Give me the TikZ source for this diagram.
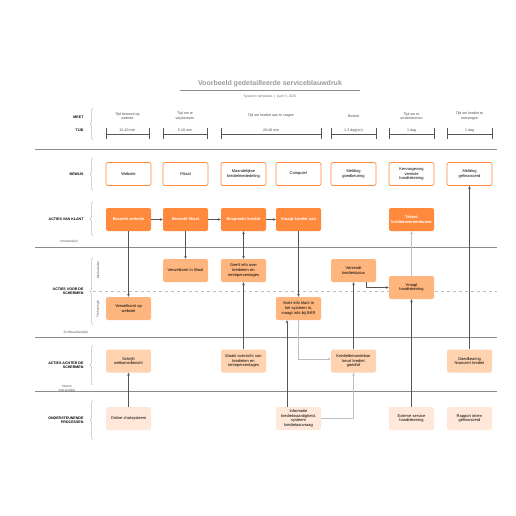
\documentclass[tikz,border=0pt]{standalone}
\usepackage{fontspec}
\setmainfont{Liberation Sans}
\usetikzlibrary{arrows.meta,decorations.pathreplacing}

\definecolor{oranjeA}{HTML}{FF8A3D}
\definecolor{oranjeB}{HTML}{FFB67E}
\definecolor{oranjeC}{HTML}{FFD3B0}
\definecolor{oranjeD}{HTML}{FFE8D9}
\definecolor{lijngrijs}{HTML}{8C8C8C}
\definecolor{pijlgrijs}{HTML}{555555}

\newcommand{\klein}{\fontsize{3.6}{4.4}\selectfont}
\newcommand{\blokfont}{\fontsize{4}{4.8}\selectfont}

\tikzset{
  blok/.style={rounded corners=2pt, minimum width=45pt, minimum height=23pt, text width=44pt, align=center, inner sep=0.5pt, font=\blokfont},
  bewijs/.style={blok, draw=oranjeA, line width=0.7pt, fill=white},
  klant/.style={blok, fill=oranjeA, text=white, font=\blokfont\bfseries},
  voor/.style={blok, fill=oranjeB},
  achter/.style={blok, fill=oranjeC},
  steun/.style={blok, fill=oranjeD},
  rij/.style={font=\klein\bfseries, align=right, anchor=east},
  lijnnaam/.style={font=\fontsize{3.2}{3.8}\selectfont, text=black!65, align=center},
  baan/.style={draw=lijngrijs, line width=0.8pt},
  accolade/.style={draw=black!25, line width=0.5pt, decorate, decoration={brace, amplitude=3pt}},
  pijl/.style={draw=pijlgrijs, line width=0.7pt, -{Stealth[length=3pt, width=2.6pt]}},
  pijllicht/.style={pijl, draw=black!25},
}

\begin{document}
\begin{tikzpicture}[x=1pt, y=-1pt]
    \fill[white] (0,0) rectangle (516,516);
    \useasboundingbox (0,0) rectangle (516,516);

    % titel
    \node[font=\fontsize{7}{8}\selectfont\bfseries, text=black!40] (titel) at (270,84) {Voorbeeld gedetailleerde serviceblauwdruk};
    \draw[lijngrijs, line width=0.6pt] (180,90) -- (360,90);
    \node[font=\fontsize{3.4}{4}\selectfont, text=black!55] (onder) at (270,97) {Systeem templates \ | \ April 3, 2025};

    % rijnamen en accolades
    \node[rij] (rmeet) at (87,117) {MEET};
    \node[rij] (rtijd) at (87,130) {TIJD};
    \node[rij] (rbewijs) at (87,174) {BEWIJS};
    \node[rij] (rklant) at (87,219) {ACTIES VAN KLANT};
    \node[rij] (rvoor) at (87,291) {ACTIES VOOR DE\\SCHERMEN};
    \node[rij] (rachter) at (87,365) {ACTIES ACHTER DE\\SCHERMEN};
    \node[rij] (rsteun) at (87,420) {ONDERSTEUNENDE\\PROCESSEN};
    \foreach \ya/\yb in {140/108, 190/158, 236/202, 325/258, 385/345, 440/400} {
      \draw[accolade] (93,\ya) -- (93,\yb);
    }
    \node[lijnnaam, rotate=90] (medew) at (98,270) {Medewerker};
    \node[lijnnaam, rotate=90] (techn) at (98,309) {Technologie};

    % lijnen
    \draw[baan] (35,149) -- (497,149);
    \draw[baan] (35,247) -- (497,247);
    \draw[black!25, dashed, line width=0.5pt] (93,291) -- (497,291);
    \draw[baan] (35,337) -- (497,337);
    \draw[baan] (35,391) -- (497,391);
    \node[lijnnaam] (interactie) at (69,242) {Interactielijn};
    \node[lijnnaam] (zicht) at (76,333) {Zichtbaarheidslijn};
    \node[lijnnaam] (intern) at (67,389) {Interne\\interactielijn};

    % tijdsbalken
    \foreach \xa/\xb/\kop/\tijd [count=\i] in {
        106/149/Tijd besteed op\\website/15-20 min,
        163/207/Tijd om te\\verplaatsen/5-10 min,
        221/321/Tijd om krediet aan te vragen/20-40 min,
        331/376/Besluit/1-3 dag(en),
        389/434/Tijd om te\\ondertekenen/1 dag,
        447/492/Tijd om krediet te\\ontvangen/1 dag} {
      \draw[pijlgrijs, line width=0.6pt] (\xa,128) -- (\xa,139) (\xa,134) -- (\xb,134) (\xb,128) -- (\xb,139);
      \node[font=\klein, text=black!70, align=center] (kop\i) at ({(\xa+\xb)/2},116) {\kop};
      \node[font=\klein, text=black!70] (tijd\i) at ({(\xa+\xb)/2},130.5) {\tijd};
    }

    % bewijs
    \node[bewijs] (e1) at (128.5,174) {Website};
    \node[bewijs] (e2) at (185.5,174) {Filiaal};
    \node[bewijs] (e3) at (243.5,174) {Maandelijkse\\kredietmededeling};
    \node[bewijs] (e4) at (298.5,174) {Computer};
    \node[bewijs] (e5) at (353.5,174) {Melding\\goedkeuring};
    \node[bewijs] (e6) at (411.5,174) {Kennisgeving\\vereiste\\handtekening};
    \node[bewijs] (e7) at (469.5,174) {Melding\\gefinancierd};

    % acties van klant
    \node[klant] (k1) at (128.5,219.5) {Bezoekt website};
    \node[klant] (k2) at (185.5,219.5) {Bezoekt filiaal};
    \node[klant] (k3) at (243.5,219.5) {Bespreekt krediet};
    \node[klant] (k4) at (298.5,219.5) {Vraagt krediet aan};
    \node[klant] (k5) at (411.5,219.5) {Tekent\\kredietovereenkomst};

    % acties voor de schermen
    \node[voor] (v1) at (185.5,270.5) {Verwelkomt in filiaal};
    \node[voor] (v2) at (243.5,270.5) {Geeft info over\\kredieten en\\rentepercentages};
    \node[voor] (v3) at (353.5,270.5) {Verzendt\\kredietstatus};
    \node[voor] (v4) at (411.5,287.5) {Vraagt\\handtekening};
    \node[voor] (t1) at (128.5,308.5) {Verwelkomt op\\website};
    \node[voor] (t2) at (298.5,308.5) {Voert info klant in\\het systeem in,\\vraagt info bij BKR};

    % acties achter de schermen
    \node[achter] (a1) at (128.5,361) {Schrijft\\welkomstbericht};
    \node[achter] (a2) at (243.5,361) {Maakt overzicht van\\kredieten en\\rentepercentages};
    \node[achter] (a3) at (353.5,361) {Kredietbeoordelaar\\keurt krediet\\goed/af};
    \node[achter] (a4) at (469.5,361) {Goedkeuring\\financiert krediet};

    % ondersteunende processen
    \node[steun] (s1) at (128.5,418.5) {Online chatsysteem};
    \node[steun] (s2) at (298.5,418.5) {Informatie\\kredietwaardigheid,\\systeem\\kredietaanvraag};
    \node[steun] (s3) at (411.5,418.5) {Externe service\\handtekening};
    \node[steun] (s4) at (469.5,418.5) {Rapport intern\\gefinancierd};

    % verbindingen
    \draw[pijl] (k1) -- (k2);
    \draw[pijl] (k2) -- (k3);
    \draw[pijl] (k3) -- (k4);
    \draw[pijl] (k1) -- (t1);
    \draw[pijl] (k2) -- (v1);
    \draw[pijl, {Stealth[length=3pt, width=2.6pt]}-{Stealth[length=3pt, width=2.6pt]}] (k3) -- (v2);
    \draw[pijl] (a2) -- (v2);
    \draw[pijl] (k4) -- (t2);
    \draw[pijl] ([xshift=-11.5pt]s2.north) -- ([xshift=-11.5pt]t2.south);
    \draw[pijllicht] (t2.south) |- ([yshift=2pt]a3.west);
    \draw[pijllicht] (s2.east) -| (a3.south);
    \draw[pijl] (a3) -- (v3);
    \draw[pijl] ([xshift=-10pt]v3.south east) |- (v4.west);
    \draw[pijllicht] (v4) -- (k5);
    \draw[pijl] (s3) -- (v4);
    \draw[pijl] (s1) -- (a1);
    \draw[pijl] (a4) -- (e7);
\end{tikzpicture}
\end{document}
